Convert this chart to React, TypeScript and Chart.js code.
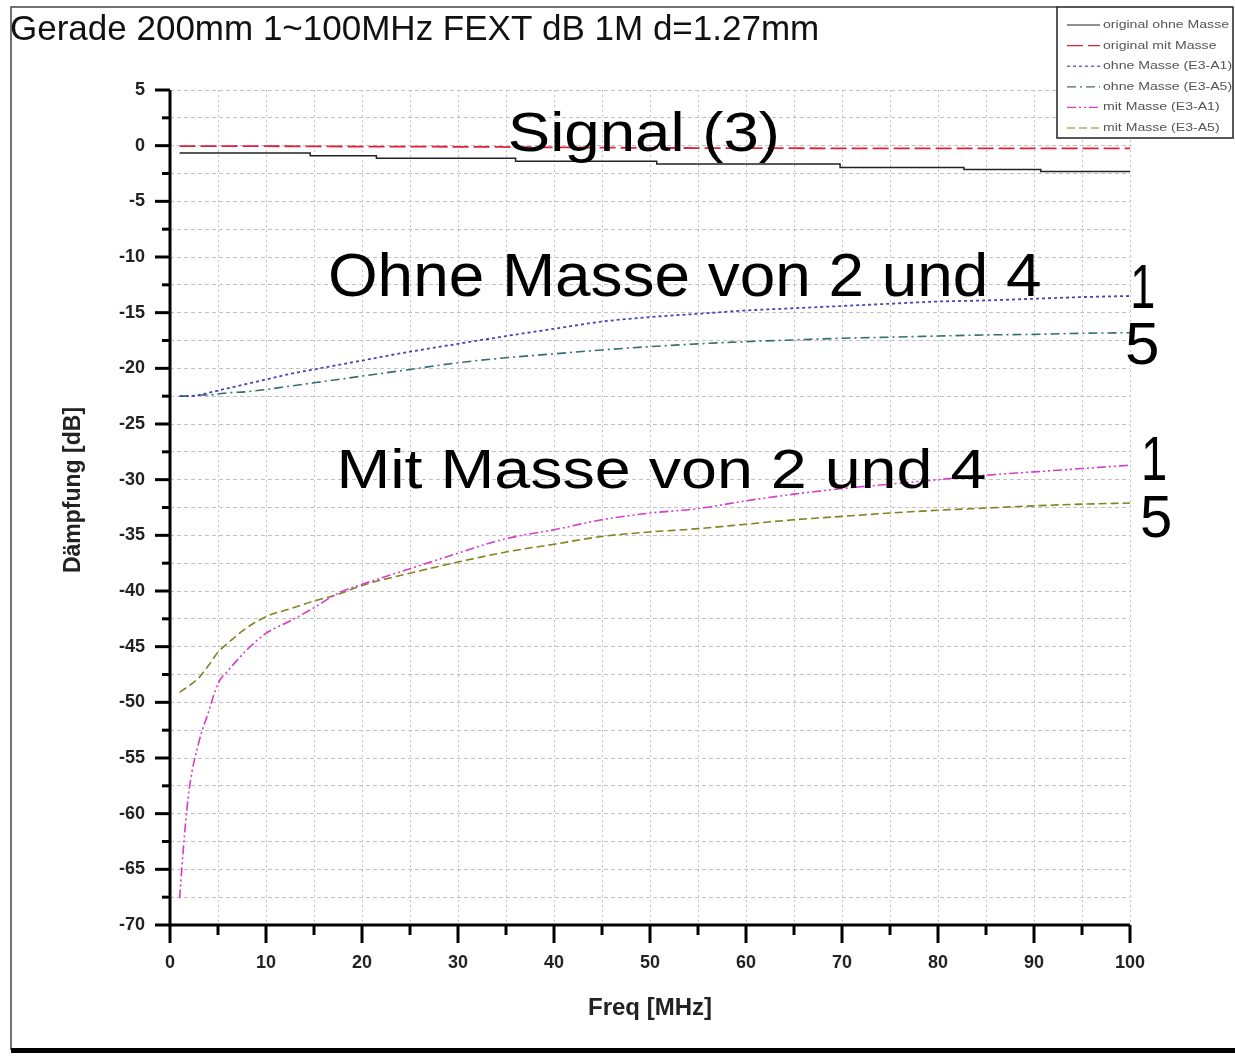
import React, { useEffect, useRef } from 'react';
import { Chart, registerables } from 'chart.js';

Chart.register(...registerables);

const FONT = '"Liberation Sans", Arial, sans-serif';

const CHART_TITLE = 'Gerade 200mm 1~100MHz FEXT dB 1M d=1.27mm';
const X_TITLE = 'Freq [MHz]';
const Y_TITLE = 'Dämpfung [dB]';
const SERIES_LABELS = [
  'original ohne Masse',
  'original mit Masse',
  'ohne Masse (E3-A1)',
  'ohne Masse (E3-A5)',
  'mit Masse (E3-A1)',
  'mit Masse (E3-A5)',
];

// x-axis ticks (MHz) and y-axis ticks (dB)
const X_MIN = 0;
const X_MAX = 100;
const X_STEP = 5;
const X_LABEL_STEP = 10;
const Y_MIN = -70;
const Y_MAX = 5;
const Y_STEP = 2.5;
const Y_LABEL_STEP = 5;

// "original ohne Masse" (stepped trace)
const stepFreq = [1, 14.6, 21.5, 36, 50.7, 69.8, 82.7, 90.7, 100];
const originalOhneMasse = [-0.65, -0.9, -1.13, -1.4, -1.65, -1.97, -2.15, -2.33, -2.33];

// "original mit Masse"
const redFreq = [1, 10, 20, 30, 40, 50, 60, 70, 80, 90, 100];
const originalMitMasse = [-0.05, -0.05, -0.08, -0.1, -0.15, -0.2, -0.22, -0.24, -0.25, -0.25, -0.25];

// shared frequency grid for the four crosstalk curves
const freq = [1, 1.5, 2, 3, 4, 5, 6, 8, 10, 12.5, 15, 17.5, 20, 25, 30, 35, 40, 45, 50, 55, 60, 65, 70, 75, 80, 85, 90, 95, 100];
const ohneE3A1 = [-22.5, -22.5, -22.5, -22.4, -22.2, -22.0, -21.8, -21.4, -21.0, -20.5, -20.1, -19.7, -19.3, -18.5, -17.8, -17.1, -16.45, -15.8, -15.4, -15.1, -14.8, -14.6, -14.4, -14.2, -14.0, -13.9, -13.75, -13.6, -13.5];
const ohneE3A5 = [-22.5, -22.5, -22.5, -22.4, -22.4, -22.3, -22.2, -22.1, -21.9, -21.6, -21.3, -21.0, -20.7, -20.1, -19.5, -19.05, -18.7, -18.35, -18.05, -17.8, -17.6, -17.45, -17.3, -17.2, -17.1, -17.0, -16.95, -16.85, -16.8];
const mitE3A1 = [-67.6, -62.0, -57.8, -53.6, -50.9, -48.3, -47.2, -45.3, -43.8, -42.7, -41.5, -40.2, -39.4, -38.0, -36.6, -35.3, -34.5, -33.6, -33.0, -32.6, -31.9, -31.3, -30.8, -30.4, -30.0, -29.6, -29.3, -29.0, -28.7];
const mitE3A5 = [-49.1, -48.8, -48.5, -47.8, -46.7, -45.5, -44.7, -43.3, -42.3, -41.6, -40.9, -40.3, -39.5, -38.4, -37.4, -36.5, -35.8, -35.1, -34.7, -34.4, -34.0, -33.6, -33.3, -33.0, -32.75, -32.55, -32.35, -32.2, -32.1];

// annotation texts
const ANNOTATIONS = [
  { text: 'Signal (3)', left: 510, right: 777, baseline: 151, size: 56 },
  { text: 'Ohne Masse von 2 und 4', left: 330, right: 1040, baseline: 296, size: 62 },
  { text: 'Mit Masse von 2 und 4', left: 341, right: 985, baseline: 488, size: 56 },
  { text: '1', left: 1133, right: 1153, baseline: 308, size: 63 },
  { text: '5', left: 1127, right: 1157, baseline: 364, size: 60 },
  { text: '1', left: 1144, right: 1165, baseline: 480, size: 63 },
  { text: '5', left: 1142, right: 1170, baseline: 537, size: 60 },
];

const toPoints = (xs: number[], ys: number[]) => xs.map((x, i) => ({ x, y: ys[i] }));

function drawFit(ctx: CanvasRenderingContext2D, text: string, left: number, right: number, baseline: number, size: number, weight = '') {
  ctx.save();
  ctx.font = `${weight} ${size}px ${FONT}`;
  ctx.textAlign = 'left';
  ctx.textBaseline = 'alphabetic';
  const m = ctx.measureText(text);
  const ink = m.actualBoundingBoxLeft + m.actualBoundingBoxRight;
  const s = (right - left) / ink;
  ctx.translate(left, baseline);
  ctx.scale(s, 1);
  ctx.fillText(text, m.actualBoundingBoxLeft, 0);
  ctx.restore();
}

const decorPlugin = {
  id: 'decor',
  beforeDraw(chart: any) {
    const { ctx, width, height } = chart;
    ctx.save();
    ctx.fillStyle = '#ffffff';
    ctx.fillRect(0, 0, width, height);
    ctx.restore();
  },
  afterDraw(chart: any) {
    const { ctx, chartArea: ca } = chart;
    const xs = chart.scales.x;
    const ys = chart.scales.y;
    ctx.save();

    // outer frame
    ctx.strokeStyle = '#444';
    ctx.lineWidth = 1.5;
    ctx.beginPath();
    ctx.moveTo(11, 1050);
    ctx.lineTo(11, 7);
    ctx.lineTo(1057, 7);
    ctx.stroke();
    ctx.fillStyle = '#000';
    ctx.fillRect(11, 1048, 1235, 5);

    // axes
    ctx.strokeStyle = '#000';
    ctx.lineWidth = 3;
    ctx.lineCap = 'butt';
    ctx.beginPath();
    ctx.moveTo(ca.left, ca.top);
    ctx.lineTo(ca.left, ca.bottom + 1.5);
    ctx.moveTo(ca.left - 1.5, ca.bottom);
    ctx.lineTo(ca.right, ca.bottom);
    ctx.stroke();

    ys.ticks.forEach((t: any) => {
      const py = ys.getPixelForValue(t.value);
      const major = Math.abs(t.value % Y_LABEL_STEP) < 1e-6;
      ctx.beginPath();
      ctx.moveTo(ca.left, py);
      ctx.lineTo(ca.left - (major ? 15 : 8), py);
      ctx.stroke();
    });
    xs.ticks.forEach((t: any) => {
      const px = xs.getPixelForValue(t.value);
      const major = Math.abs(t.value % X_LABEL_STEP) < 1e-6;
      ctx.beginPath();
      ctx.moveTo(px, ca.bottom);
      ctx.lineTo(px, ca.bottom + (major ? 18 : 10));
      ctx.stroke();
    });

    // chart title
    ctx.fillStyle = '#111';
    ctx.font = `35px ${FONT}`;
    ctx.textAlign = 'left';
    ctx.textBaseline = 'alphabetic';
    ctx.fillText(CHART_TITLE, 10, 40);

    // y-axis title
    ctx.save();
    ctx.translate(74, 490);
    ctx.rotate(-Math.PI / 2);
    ctx.font = `bold 23px ${FONT}`;
    ctx.textAlign = 'center';
    ctx.textBaseline = 'middle';
    ctx.fillStyle = '#222';
    ctx.fillText(Y_TITLE, 0, 0);
    ctx.restore();

    // annotations
    ctx.fillStyle = '#000';
    ANNOTATIONS.forEach((a) => drawFit(ctx, a.text, a.left, a.right, a.baseline, a.size));

    // legend box
    ctx.fillStyle = '#fff';
    ctx.fillRect(1057, 7, 176, 131);
    ctx.strokeStyle = '#222';
    ctx.lineWidth = 1.5;
    ctx.strokeRect(1057, 7, 176, 131);
    chart.data.datasets.forEach((ds: any, i: number) => {
      const yy = 25 + i * 20.6;
      ctx.save();
      ctx.strokeStyle = ds.borderColor;
      ctx.lineWidth = 1.2;
      ctx.setLineDash(ds.borderDash || []);
      ctx.beginPath();
      ctx.moveTo(1067, yy);
      ctx.lineTo(1100, yy);
      ctx.stroke();
      ctx.restore();
      ctx.save();
      ctx.fillStyle = '#555';
      ctx.font = `11px ${FONT}`;
      ctx.textBaseline = 'middle';
      ctx.translate(1103, yy);
      ctx.scale(1.28, 1);
      ctx.fillText(ds.label, 0, 0);
      ctx.restore();
    });

    ctx.restore();
  },
};

export default function App() {
  const ref = useRef<HTMLCanvasElement>(null);

  useEffect(() => {
    const canvas = ref.current;
    if (!canvas) return;
    const datasets = [
      { label: SERIES_LABELS[0], data: toPoints(stepFreq, originalOhneMasse), borderColor: '#222222', borderWidth: 1.5, stepped: true, borderDash: [] as number[] },
      { label: SERIES_LABELS[1], data: toPoints(redFreq, originalMitMasse), borderColor: '#e0203c', borderWidth: 1.8, borderDash: [16, 5] },
      { label: SERIES_LABELS[2], data: toPoints(freq, ohneE3A1), borderColor: '#4444b8', borderWidth: 1.8, borderDash: [3, 3] },
      { label: SERIES_LABELS[3], data: toPoints(freq, ohneE3A5), borderColor: '#356e6e', borderWidth: 1.6, borderDash: [9, 4, 2, 4] },
      { label: SERIES_LABELS[4], data: toPoints(freq, mitE3A1), borderColor: '#d63cc8', borderWidth: 1.6, borderDash: [9, 3, 2, 3, 2, 3] },
      { label: SERIES_LABELS[5], data: toPoints(freq, mitE3A5), borderColor: '#858220', borderWidth: 1.6, borderDash: [8, 4] },
    ];
    const tickFont = { family: FONT, size: 18, weight: 'bold' as const };
    const chart = new Chart(canvas, {
      type: 'line',
      data: { datasets },
      options: {
        responsive: false,
        animation: false,
        devicePixelRatio: 1,
        layout: { padding: { left: 60, right: 105, top: 90, bottom: 22 } },
        elements: {
          point: { radius: 0, hoverRadius: 0 },
          line: { cubicInterpolationMode: 'monotone', fill: false },
        },
        plugins: {
          legend: { display: false },
          title: { display: false },
          tooltip: { enabled: false },
        },
        scales: {
          x: {
            type: 'linear',
            min: X_MIN,
            max: X_MAX,
            afterFit: (s: any) => { s.height = 110; },
            ticks: {
              stepSize: X_STEP,
              autoSkip: false,
              maxRotation: 0,
              padding: 27,
              color: '#222',
              font: tickFont,
              callback: (v: any) => (Math.abs(Number(v) % X_LABEL_STEP) < 1e-6 ? String(v) : ''),
            },
            grid: { color: '#c2c2c2', lineWidth: 1, drawTicks: false },
            border: { display: false, dash: [2, 3] },
            title: {
              display: true,
              text: X_TITLE,
              color: '#222',
              font: { family: FONT, size: 24, weight: 'bold' },
              padding: { top: 0, bottom: 12 },
            },
          },
          y: {
            type: 'linear',
            min: Y_MIN,
            max: Y_MAX,
            afterFit: (s: any) => { s.width = 110; },
            ticks: {
              stepSize: Y_STEP,
              autoSkip: false,
              padding: 25,
              color: '#222',
              font: tickFont,
              callback: (v: any) => (Math.abs(Number(v) % Y_LABEL_STEP) < 1e-6 ? String(Number(v) === 0 ? 0 : v) : ''),
            },
            grid: { color: '#c2c2c2', lineWidth: 1, drawTicks: false },
            border: { display: false, dash: [4, 3] },
          },
        },
      },
      plugins: [decorPlugin],
    } as any);
    return () => chart.destroy();
  }, []);

  return (
    <div style={{ position: 'fixed', left: 0, top: 0, width: 1235, height: 1057, background: '#fff' }}>
      <canvas ref={ref} width={1235} height={1057} style={{ display: 'block' }} />
    </div>
  );
}
